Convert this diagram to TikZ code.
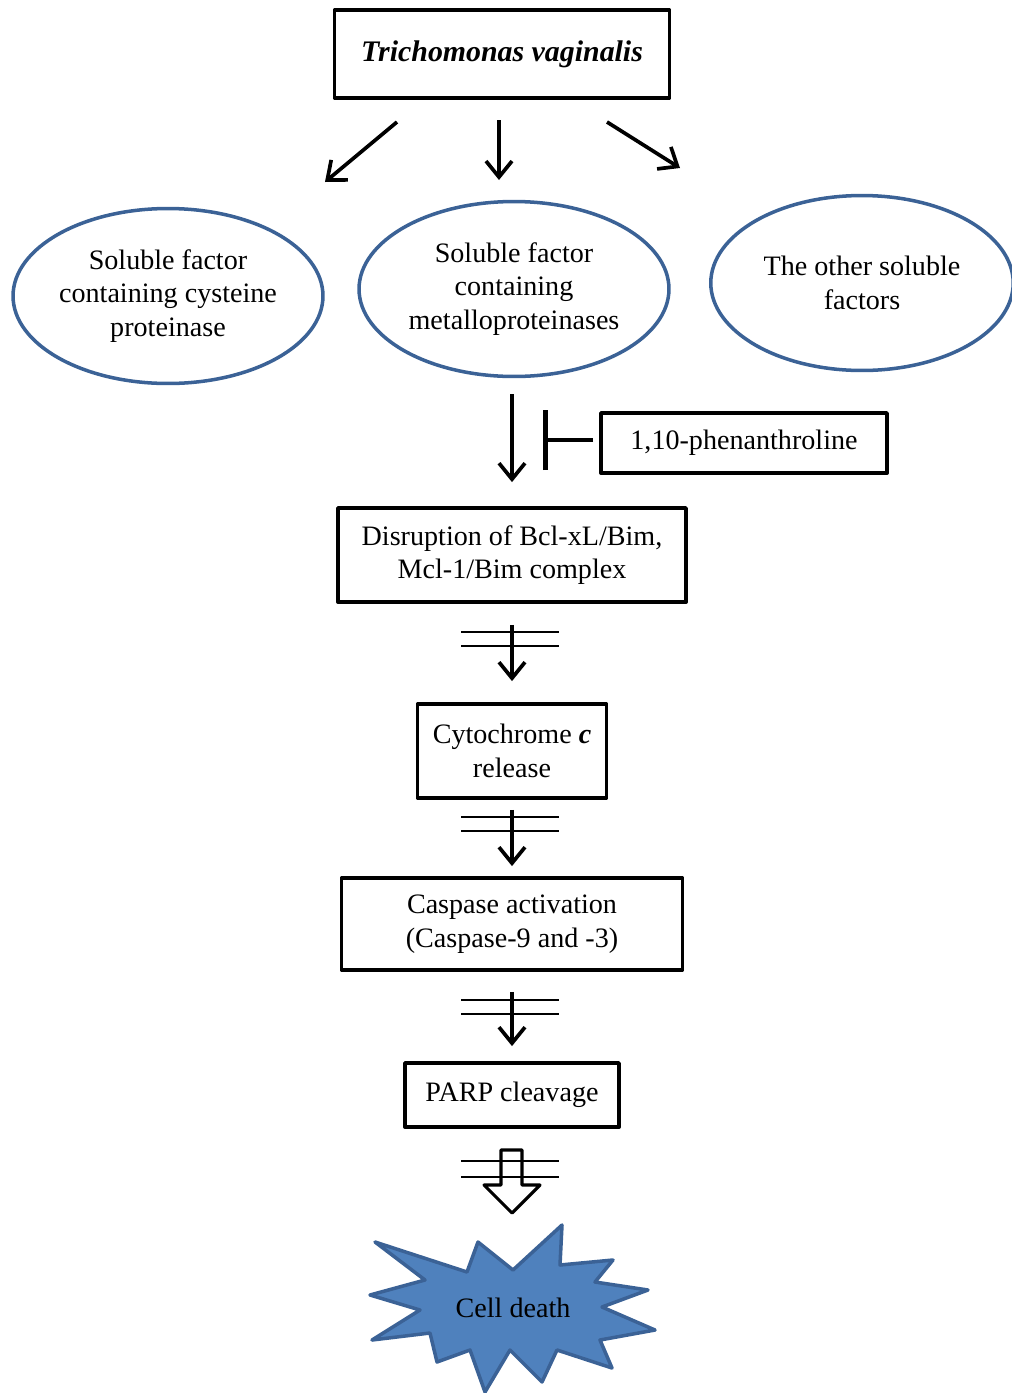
\documentclass[tikz,border=0pt]{standalone}
\usepackage{fontspec}
\setmainfont{Liberation Serif}
\usetikzlibrary{shapes.geometric,arrows.meta}
\definecolor{ovalblue}{HTML}{3B6296}
\definecolor{burstblue}{HTML}{4F81BD}
\tikzset{
	box/.style={draw,line width=2.2pt,align=center,inner sep=0pt},
	oval/.style={ellipse,draw=ovalblue,line width=2pt,align=center,inner sep=0pt,minimum width=6.2cm,minimum height=3.5cm},
	arr/.style={line width=2.1pt,-{Straight Barb[length=0.32cm,width=0.52cm]}},
	bars/.style={line width=0.8pt},
}
\begin{document}
\begin{tikzpicture}[x=0.02cm,y=-0.02cm,line join=round,font=\fontsize{16}{19}\selectfont]
	\useasboundingbox (0,0) rectangle (1011,1393);
	\node[box,minimum width=6.7cm,minimum height=1.76cm,font=\fontsize{17}{20}\selectfont\bfseries\itshape] (tv) at (502,54) {Trichomonas vaginalis};
	\node[oval] (cys) at (168,296) {Soluble factor\\containing cysteine\\proteinase};
	\node[oval] (metal) at (514,289) {Soluble factor\\containing\\metalloproteinases};
	\node[oval,minimum width=6.05cm] (other) at (862,283) {The other soluble\\factors};
	\path (397,122) coordinate (l1) (325,182) coordinate (l2)
		(499,120) coordinate (m1) (499,180) coordinate (m2)
		(607,122) coordinate (r1) (680,168) coordinate (r2);
	\foreach \p/\q in {l1/l2,m1/m2,r1/r2}{\draw[arr] (\p)--(\q);}
	% chain
	\node[box,minimum width=6.96cm,minimum height=1.88cm] (dis) at (512,555) {Disruption of Bcl-xL/Bim,\\Mcl-1/Bim complex};
	\node[box,minimum width=5.72cm,minimum height=1.2cm] (phen) at (744,443) {1,10-phenanthroline};
	\node[box,minimum width=3.78cm,minimum height=1.88cm] (cyt) at (512,751) {Cytochrome \textbf{\textit{c}}\\release};
	\node[box,minimum width=6.82cm,minimum height=1.84cm] (cas) at (512,924) {Caspase activation\\(Caspase-9 and -3)};
	\node[box,minimum width=4.28cm,minimum height=1.28cm] (parp) at (512,1095) {PARP cleavage};
	\draw[arr,shorten <=0.32cm,shorten >=0.48cm] (metal.south -| dis.north)--(dis.north);
	\draw[line width=2.8pt,-{Bar[width=1.2cm]}] ([xshift=-0.12cm,yshift=0.06cm]phen.west)--++(-50,0);
	\foreach \a/\b/\y/\s/\e in {dis/cyt/632/0.42cm/0.42cm,cyt/cas/817/0.2cm/0.2cm,cas/parp/1000/0.4cm/0.3cm}{
		\draw[bars] (461,\y)--(559,\y) (461,\y+14)--(559,\y+14);
		\draw[arr,shorten <=\s,shorten >=\e] (\a)--(\b);
	}
	% hollow arrow
	\draw[line width=1.8pt] (501,1150)--(522,1150)--(522,1185)--(540,1185)--(512,1213)--(484,1185)--(501,1185)--cycle;
	\draw[bars] (461,1161)--(559,1161) (461,1177)--(559,1177);
	% burst
	\draw[draw=ovalblue,fill=burstblue,line width=2pt] (375,1242)--(467,1272)--(478,1242)--(513,1270)--(562,1225)--(560,1265)--(613,1260)--(595,1282)--(648,1290)--(602,1307)--(655,1330)--(600,1340)--(612,1368)--(557,1350)--(542,1382)--(510,1350)--(485,1392)--(470,1350)--(437,1362)--(430,1333)--(372,1340)--(420,1310)--(370,1295)--(425,1280)--cycle;
	\node (death) at (513,1308) {Cell death};
\end{tikzpicture}
\end{document}
